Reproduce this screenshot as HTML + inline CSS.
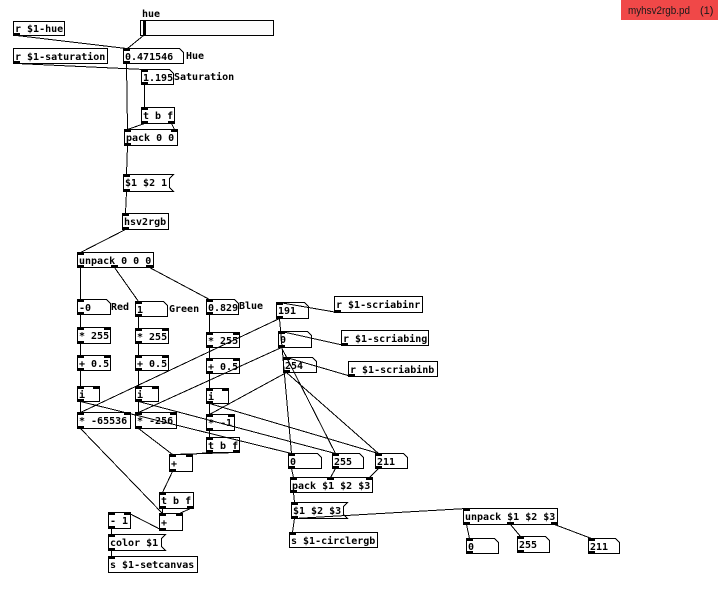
<!DOCTYPE html>
<html>
<head>
<meta charset="utf-8">
<style>
html,body{margin:0;padding:0;background:#fff;width:718px;height:599px;overflow:hidden;}
svg{display:block;}
.t{font-family:"DejaVu Sans Mono","Liberation Mono",monospace;font-weight:bold;font-size:10px;fill:#000;}
</style>
</head>
<body>
<svg width="718" height="599" viewBox="0 0 718 599" xmlns="http://www.w3.org/2000/svg" shape-rendering="crispEdges">
<!-- tab -->
<rect x="621" y="0" width="97" height="20" fill="#f04848"/>
<text x="628" y="14" font-family="Liberation Sans, sans-serif" font-size="11" fill="#1a1a1a" textLength="62" lengthAdjust="spacingAndGlyphs">myhsv2rgb.pd</text>
<text x="700" y="14" font-family="Liberation Sans, sans-serif" font-size="11" fill="#1a1a1a">(1)</text>

<!-- connections -->
<g transform="translate(.5,.5)" stroke="#000" stroke-width="1" fill="none">
<path d="M16 35L126 48M143 35L127 48M16 63L144 69M126 63L127 129M144 84L144 107M144 123L127 129M171 123L174 129M127 145L126 174M126 191L125 213M125 229L80 252M80 267L80 299M114 267L138 301M149 267L209 299"/>
<path d="M80 314V327M80 343V355M80 370V386M80 401V412"/>
<path d="M138 316V328M138 343V355M138 370V386M138 401V412"/>
<path d="M209 314V332M209 347V358M209 373V388M209 403V414M209 430V437"/>
<path d="M337 312L279 302M344 345L281 331M351 376L286 357"/>
<path d="M279 318L80 412M279 318L291 453M281 347L138 412M281 347L335 453M286 372L209 414M286 372L378 453"/>
<path d="M80 401L291 453M138 401L335 453M209 403L378 453"/>
<path d="M80 428L162 513M138 428L172 454M209 452L189 454M236 452L172 454M172 471L162 492M162 508V513M190 508L179 513M162 530L127 512M111 528V534M111 550V556"/>
<path d="M291 468L293 477M335 468L330 477M378 468L369 477M293 492L294 502M294 518L292 532M294 518L466 508M466 524L469 538M510 524L520 536M554 524L591 538"/>
</g>

<!-- boxes -->
<g transform="translate(.5,.5)" stroke="#000" stroke-width="1" fill="none">
<rect x="140" y="20" width="133" height="15" fill="#fcfcfc"/>
<rect x="13" y="21" width="51" height="14"/>
<rect x="13" y="48" width="94" height="15"/>
<rect x="141" y="107" width="33" height="16"/>
<rect x="124" y="129" width="53" height="16"/>
<rect x="122" y="213" width="46" height="16"/>
<rect x="77" y="252" width="76" height="15"/>
<rect x="77" y="327" width="33" height="16"/>
<rect x="135" y="328" width="33" height="15"/>
<rect x="206" y="332" width="33" height="15"/>
<rect x="77" y="355" width="33" height="15"/>
<rect x="135" y="355" width="33" height="15"/>
<rect x="206" y="358" width="33" height="15"/>
<rect x="77" y="386" width="22" height="15"/>
<rect x="135" y="386" width="23" height="15"/>
<rect x="206" y="388" width="22" height="15"/>
<rect x="77" y="412" width="53" height="16"/>
<rect x="135" y="412" width="41" height="16"/>
<rect x="206" y="414" width="28" height="16"/>
<rect x="206" y="437" width="33" height="15"/>
<rect x="334" y="296" width="88" height="16"/>
<rect x="341" y="330" width="87" height="15"/>
<rect x="348" y="361" width="89" height="15"/>
<rect x="169" y="454" width="23" height="17"/>
<rect x="159" y="492" width="34" height="16"/>
<rect x="159" y="513" width="23" height="17"/>
<rect x="108" y="512" width="22" height="16"/>
<rect x="108" y="556" width="89" height="16"/>
<rect x="290" y="477" width="82" height="15"/>
<rect x="289" y="532" width="88" height="15"/>
<rect x="463" y="508" width="94" height="16"/>
<!-- number boxes -->
<path d="M123 48H179L183 52V63H123Z"/>
<path d="M141 69H169L173 73V84H141Z"/>
<path d="M77 299H106L110 303V314H77Z"/>
<path d="M135 301H163L167 305V316H135Z"/>
<path d="M206 299H234L238 303V314H206Z"/>
<path d="M276 302H304L308 306V318H276Z"/>
<path d="M278 331H307L311 335V347H278Z"/>
<path d="M283 357H312L316 361V372H283Z"/>
<path d="M288 453H317L321 457V468H288Z"/>
<path d="M332 453H359L363 457V468H332Z"/>
<path d="M375 453H403L407 457V468H375Z"/>
<path d="M466 538H494L498 542V553H466Z"/>
<path d="M517 536H545L549 540V552H517Z"/>
<path d="M588 538H615L619 542V553H588Z"/>
<!-- message boxes -->
<path d="M123 174H173L169 178V187L173 191H123Z"/>
<path d="M108 534H165L161 538V546L165 550H108Z"/>
<path d="M291 502H347L343 506V514L347 518H291Z"/>
</g>

<!-- slider knob -->
<rect x="143" y="21" width="3" height="14" fill="#000"/>

<!-- inlets / outlets -->
<g fill="#000">
<rect x="13" y="33" width="7" height="3"/>
<rect x="13" y="61" width="7" height="3"/>
<rect x="123" y="48" width="7" height="3"/><rect x="123" y="61" width="7" height="3"/>
<rect x="141" y="69" width="7" height="3"/><rect x="141" y="82" width="7" height="3"/>
<rect x="141" y="107" width="7" height="3"/><rect x="141" y="121" width="7" height="3"/><rect x="168" y="121" width="7" height="3"/>
<rect x="124" y="129" width="7" height="3"/><rect x="171" y="129" width="7" height="3"/><rect x="124" y="143" width="7" height="3"/>
<rect x="123" y="174" width="7" height="3"/><rect x="123" y="189" width="7" height="3"/>
<rect x="122" y="213" width="7" height="3"/><rect x="122" y="227" width="7" height="3"/>
<rect x="77" y="252" width="7" height="3"/><rect x="77" y="265" width="7" height="3"/><rect x="111" y="265" width="7" height="3"/><rect x="146" y="265" width="7" height="3"/>
<rect x="77" y="299" width="7" height="3"/><rect x="77" y="312" width="7" height="3"/>
<rect x="135" y="301" width="7" height="3"/><rect x="135" y="314" width="7" height="3"/>
<rect x="206" y="299" width="7" height="3"/><rect x="206" y="312" width="7" height="3"/>
<rect x="77" y="327" width="7" height="3"/><rect x="104" y="327" width="7" height="3"/><rect x="77" y="341" width="7" height="3"/>
<rect x="135" y="328" width="7" height="3"/><rect x="162" y="328" width="7" height="3"/><rect x="135" y="341" width="7" height="3"/>
<rect x="206" y="332" width="7" height="3"/><rect x="233" y="332" width="7" height="3"/><rect x="206" y="345" width="7" height="3"/>
<rect x="77" y="355" width="7" height="3"/><rect x="104" y="355" width="7" height="3"/><rect x="77" y="368" width="7" height="3"/>
<rect x="135" y="355" width="7" height="3"/><rect x="162" y="355" width="7" height="3"/><rect x="135" y="368" width="7" height="3"/>
<rect x="206" y="358" width="7" height="3"/><rect x="233" y="358" width="7" height="3"/><rect x="206" y="371" width="7" height="3"/>
<rect x="77" y="386" width="7" height="3"/><rect x="93" y="386" width="7" height="3"/><rect x="77" y="399" width="7" height="3"/>
<rect x="135" y="386" width="7" height="3"/><rect x="152" y="386" width="7" height="3"/><rect x="135" y="399" width="7" height="3"/>
<rect x="206" y="388" width="7" height="3"/><rect x="222" y="388" width="7" height="3"/><rect x="206" y="401" width="7" height="3"/>
<rect x="77" y="412" width="7" height="3"/><rect x="124" y="412" width="7" height="3"/><rect x="77" y="426" width="7" height="3"/>
<rect x="135" y="412" width="7" height="3"/><rect x="170" y="412" width="7" height="3"/><rect x="135" y="426" width="7" height="3"/>
<rect x="206" y="414" width="7" height="3"/><rect x="228" y="414" width="7" height="3"/><rect x="206" y="428" width="7" height="3"/>
<rect x="206" y="437" width="7" height="3"/><rect x="206" y="450" width="7" height="3"/><rect x="233" y="450" width="7" height="3"/>
<rect x="276" y="302" width="7" height="3"/><rect x="276" y="316" width="7" height="3"/>
<rect x="278" y="331" width="7" height="3"/><rect x="278" y="345" width="7" height="3"/>
<rect x="283" y="357" width="7" height="3"/><rect x="283" y="370" width="7" height="3"/>
<rect x="334" y="310" width="7" height="3"/>
<rect x="341" y="343" width="7" height="3"/>
<rect x="348" y="374" width="7" height="3"/>
<rect x="288" y="453" width="7" height="3"/><rect x="288" y="466" width="7" height="3"/>
<rect x="332" y="453" width="7" height="3"/><rect x="332" y="466" width="7" height="3"/>
<rect x="375" y="453" width="7" height="3"/><rect x="375" y="466" width="7" height="3"/>
<rect x="169" y="454" width="7" height="3"/><rect x="186" y="454" width="7" height="3"/><rect x="169" y="469" width="7" height="3"/>
<rect x="159" y="492" width="7" height="3"/><rect x="159" y="506" width="7" height="3"/><rect x="187" y="506" width="7" height="3"/>
<rect x="159" y="513" width="7" height="3"/><rect x="176" y="513" width="7" height="3"/><rect x="159" y="528" width="7" height="3"/>
<rect x="108" y="512" width="7" height="3"/><rect x="124" y="512" width="7" height="3"/><rect x="108" y="526" width="7" height="3"/>
<rect x="108" y="534" width="7" height="3"/><rect x="108" y="548" width="7" height="3"/>
<rect x="108" y="556" width="7" height="3"/>
<rect x="290" y="477" width="7" height="3"/><rect x="327" y="477" width="7" height="3"/><rect x="366" y="477" width="7" height="3"/><rect x="290" y="490" width="7" height="3"/>
<rect x="291" y="502" width="7" height="3"/><rect x="291" y="516" width="7" height="3"/>
<rect x="289" y="532" width="7" height="3"/>
<rect x="463" y="508" width="7" height="3"/><rect x="463" y="522" width="7" height="3"/><rect x="507" y="522" width="7" height="3"/><rect x="551" y="522" width="7" height="3"/>
<rect x="466" y="538" width="7" height="3"/><rect x="466" y="551" width="7" height="3"/>
<rect x="517" y="536" width="7" height="3"/><rect x="517" y="550" width="7" height="3"/>
<rect x="588" y="538" width="7" height="3"/><rect x="588" y="551" width="7" height="3"/>
</g>

<!-- text -->
<g class="t" shape-rendering="auto">
<text x="142" y="17">hue</text>
<text x="15" y="32">r $1-hue</text>
<text x="15" y="60">r $1-saturation</text>
<text x="125" y="60">0.471546</text>
<text x="186" y="59">Hue</text>
<text x="143" y="81">1.195</text>
<text x="174" y="80">Saturation</text>
<text x="143" y="119">t b f</text>
<text x="126" y="141">pack 0 0</text>
<text x="125" y="186">$1 $2 1</text>
<text x="124" y="225">hsv2rgb</text>
<text x="79" y="264">unpack 0 0 0</text>
<text x="79" y="311">-0</text>
<text x="111" y="310">Red</text>
<text x="137" y="313">1</text>
<text x="169" y="312">Green</text>
<text x="208" y="311">0.829</text>
<text x="239" y="309">Blue</text>
<text x="79" y="339">* 255</text>
<text x="137" y="340">* 255</text>
<text x="208" y="344">* 255</text>
<text x="79" y="367">+ 0.5</text>
<text x="137" y="367">+ 0.5</text>
<text x="208" y="370">+ 0.5</text>
<text x="79" y="398">i</text>
<text x="137" y="398">i</text>
<text x="208" y="400">i</text>
<text x="79" y="424">* -65536</text>
<text x="137" y="424">* -256</text>
<text x="208" y="426">* -1</text>
<text x="208" y="449">t b f</text>
<text x="278" y="314">191</text>
<text x="280" y="343">0</text>
<text x="285" y="369">254</text>
<text x="336" y="308">r $1-scriabinr</text>
<text x="343" y="342">r $1-scriabing</text>
<text x="350" y="373">r $1-scriabinb</text>
<text x="290" y="465">0</text>
<text x="334" y="465">255</text>
<text x="377" y="465">211</text>
<text x="171" y="467">+</text>
<text x="161" y="504">t b f</text>
<text x="161" y="526">+</text>
<text x="110" y="524">- 1</text>
<text x="110" y="546">color $1</text>
<text x="110" y="568">s $1-setcanvas</text>
<text x="292" y="489">pack $1 $2 $3</text>
<text x="293" y="514">$1 $2 $3</text>
<text x="291" y="544">s $1-circlergb</text>
<text x="465" y="520">unpack $1 $2 $3</text>
<text x="468" y="550">0</text>
<text x="519" y="548">255</text>
<text x="590" y="550">211</text>
</g>
</svg>
</body>
</html>
